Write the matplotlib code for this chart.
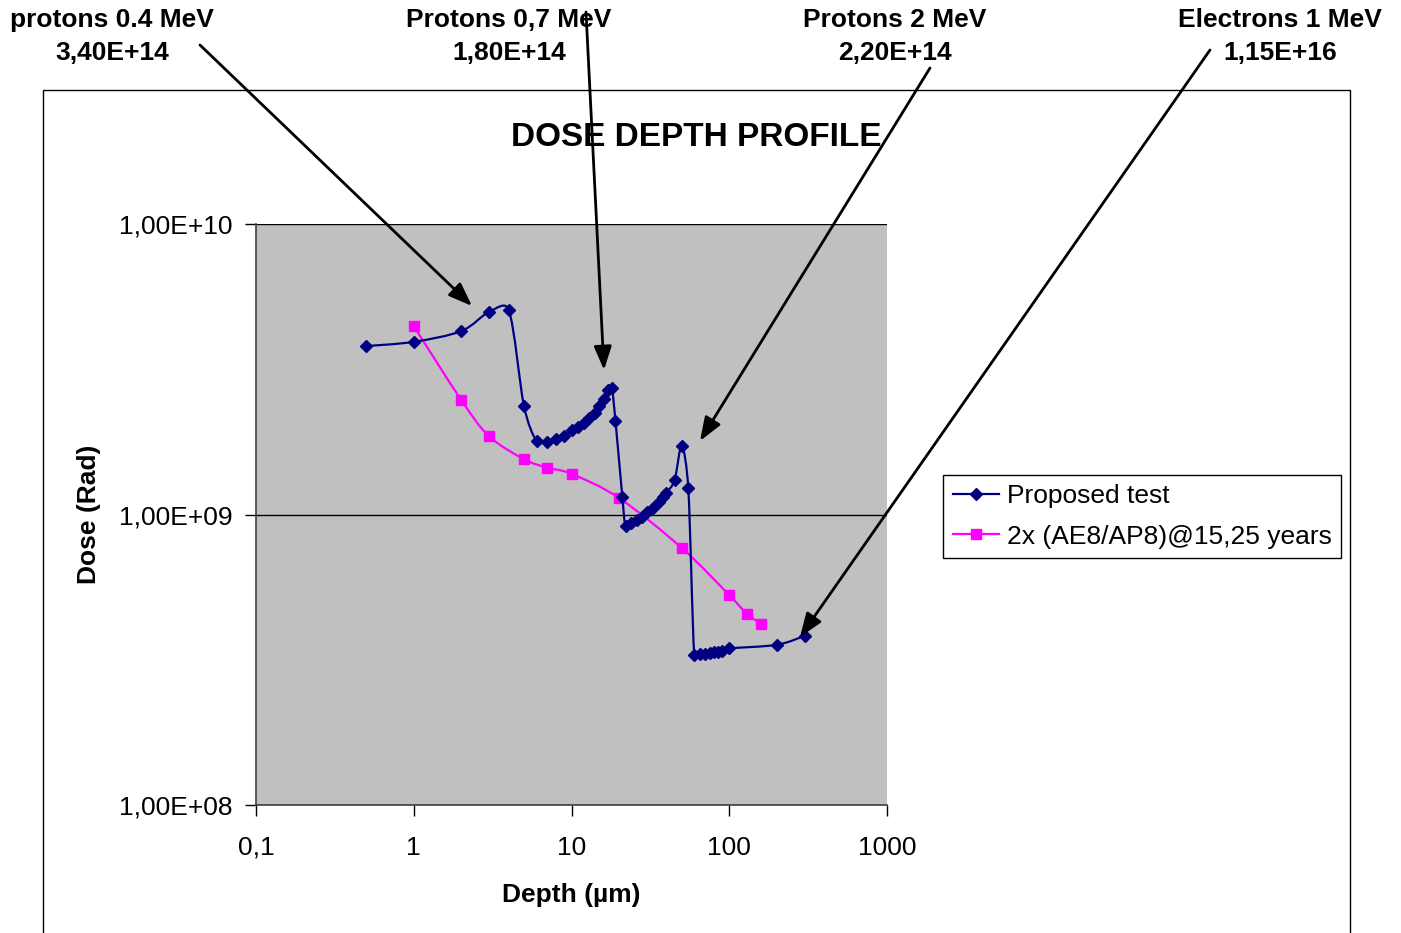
import numpy as np
import matplotlib
matplotlib.use("Agg")
import matplotlib.pyplot as plt
from matplotlib.path import Path
from matplotlib.patches import PathPatch, Rectangle, FancyArrowPatch
from matplotlib.lines import Line2D

plt.rcParams['font.family'] = ['Liberation Sans', 'DejaVu Sans']

# ---- data ----
test_depth = [0.5, 1, 2, 3, 4, 5, 6, 7, 8, 9, 10, 11, 12, 13, 14, 15, 16, 17, 18, 19,
              21, 22, 24, 26, 28, 30, 33, 36, 38, 40, 45, 50, 55, 60, 65, 70, 75, 80,
              85, 90, 100, 200, 300]
test_dose = [3.80e9, 3.93e9, 4.28e9, 4.98e9, 5.06e9, 2.36e9, 1.79e9, 1.78e9, 1.82e9, 1.86e9,
             1.95e9, 2.00e9, 2.07e9, 2.15e9, 2.24e9, 2.36e9, 2.50e9, 2.68e9, 2.73e9, 2.10e9,
             1.15e9, 0.915e9, 0.935e9, 0.955e9, 0.98e9, 1.02e9, 1.05e9, 1.10e9, 1.15e9, 1.19e9,
             1.31e9, 1.72e9, 1.23e9, 3.28e8, 3.30e8, 3.32e8, 3.33e8, 3.35e8, 3.37e8, 3.40e8,
             3.46e8, 3.56e8, 3.82e8]
env_depth = [1, 2, 3, 5, 7, 10, 20, 50, 100, 130, 160]
env_dose = [4.45e9, 2.48e9, 1.86e9, 1.55e9, 1.45e9, 1.38e9, 1.14e9, 7.67e8, 5.28e8, 4.54e8, 4.20e8]

series_labels = ["Proposed test", "2x (AE8/AP8)@15,25 years"]
x_ticks = [0.1, 1, 10, 100, 1000]
x_tick_labels = ["0,1", "1", "10", "100", "1000"]
y_ticks = [1e8, 1e9, 1e10]
y_tick_labels = ["1,00E+08", "1,00E+09", "1,00E+10"]

annot_titles = ["protons 0.4 MeV", "Protons 0,7 MeV", "Protons 2 MeV", "Electrons 1 MeV"]
annot_fluences = ["3,40E+14", "1,80E+14", "2,20E+14", "1,15E+16"]

W, H = 1401, 933
fig = plt.figure(figsize=(W / 100, H / 100), dpi=100)
fig.patch.set_facecolor('white')

def fx(x):
    return x / W

def fy(y):
    return 1 - y / H

ax = fig.add_axes([fx(256), fy(805), fx(887) - fx(256), fy(224) - fy(805)])
ax.set_facecolor('#C0C0C0')
ax.set_xscale('log')
ax.set_yscale('log')
ax.set_xlim(0.1, 1000)
ax.set_ylim(1e8, 1e10)
ax.set_xticks(x_ticks)
ax.set_xticklabels(x_tick_labels)
ax.set_yticks(y_ticks)
ax.set_yticklabels(y_tick_labels)
ax.minorticks_off()
ax.tick_params(axis='both', which='major', labelsize=19, length=8, width=1,
               direction='out', color='black')
ax.tick_params(axis='y', pad=9)
ax.tick_params(axis='x', pad=14)
ax.yaxis.grid(True, which='major', color='black', lw=1)
ax.set_axisbelow(True)
for s in ['top', 'right']:
    ax.spines[s].set_visible(False)
for s in ['left', 'bottom']:
    ax.spines[s].set_color('#404040')
    ax.spines[s].set_linewidth(1.2)

ax.set_xlabel("Depth (µm)", fontsize=19, fontweight='bold', labelpad=17)
ax.set_ylabel("Dose (Rad)", fontsize=19, fontweight='bold', labelpad=13)

fig.canvas.draw()


def smooth_path(xs, ys):
    """Excel-like smoothed line: cubic Bezier segments computed in display space."""
    pts = ax.transData.transform(np.column_stack([xs, ys]))
    n = len(pts)
    verts = [pts[0]]
    codes = [Path.MOVETO]
    for i in range(n - 1):
        p0 = pts[i - 1] if i > 0 else pts[i]
        p1 = pts[i]
        p2 = pts[i + 1]
        p3 = pts[i + 2] if i + 2 < n else pts[i + 1]
        seg = np.linalg.norm(p2 - p1)
        t1 = (p2 - p0) / 6.0
        t2 = (p3 - p1) / 6.0
        l1 = np.linalg.norm(t1)
        l2 = np.linalg.norm(t2)
        lim = seg / 2.0
        if l1 > lim and l1 > 0:
            t1 = t1 * lim / l1
        if l2 > lim and l2 > 0:
            t2 = t2 * lim / l2
        c1 = p1 + t1
        c2 = p2 - t2
        verts += [c1, c2, p2]
        codes += [Path.CURVE4] * 3
    verts = ax.transData.inverted().transform(np.array(verts))
    return Path(verts, codes)


blue = '#000080'
pink = '#FF00FF'

ax.add_patch(PathPatch(smooth_path(env_depth, env_dose), fill=False, edgecolor=pink, lw=1.6, zorder=3))
ax.plot(env_depth, env_dose, linestyle='none', marker='s', ms=7.5, color=pink, zorder=4)
ax.add_patch(PathPatch(smooth_path(test_depth, test_dose), fill=False, edgecolor=blue, lw=1.6, zorder=5))
ax.plot(test_depth, test_dose, linestyle='none', marker='D', ms=6.5, color=blue, zorder=6)

# legend
handles = [Line2D([], [], color=blue, lw=1.6, marker='D', ms=6.5),
           Line2D([], [], color=pink, lw=1.6, marker='s', ms=7.5)]
leg = fig.legend(handles, series_labels, loc='center',
                 bbox_to_anchor=(fx((941 + 1343) / 2), fy(516.5)),
                 fontsize=19, frameon=True, fancybox=False, framealpha=1,
                 edgecolor='black', handlelength=1.75, handletextpad=0.3,
                 labelspacing=0.62, borderpad=0.35, borderaxespad=0)
leg.get_frame().set_linewidth(1)

# chart frame
fig.add_artist(Rectangle((fx(43), -0.01), fx(1350) - fx(43), fy(90) + 0.01,
                         transform=fig.transFigure, fill=False, edgecolor='black', lw=1))

# title
fig.text(fx(696), fy(137), "DOSE DEPTH PROFILE", fontsize=24, fontweight='bold',
         ha='center', va='center')

# annotations
annot_x = [112, 509, 895, 1280]
for t, f, xc in zip(annot_titles, annot_fluences, annot_x):
    fig.text(fx(xc), fy(20), t, fontsize=19, fontweight='bold', ha='center', va='center')
    fig.text(fx(xc), fy(53), f, fontsize=19, fontweight='bold', ha='center', va='center')

arrows = [((200, 45), (472, 306)),
          ((586, 12), (604, 370)),
          ((930, 68), (700, 441)),
          ((1210, 50), (800, 637))]
for (x0, y0), (x1, y1) in arrows:
    fig.add_artist(FancyArrowPatch((fx(x0), fy(y0)), (fx(x1), fy(y1)),
                                   transform=fig.transFigure,
                                   arrowstyle='-|>,head_length=0.8,head_width=0.3',
                                   mutation_scale=18, lw=2, color='black',
                                   shrinkA=0, shrinkB=0, zorder=10))

fig.savefig("out.png", dpi=100)
